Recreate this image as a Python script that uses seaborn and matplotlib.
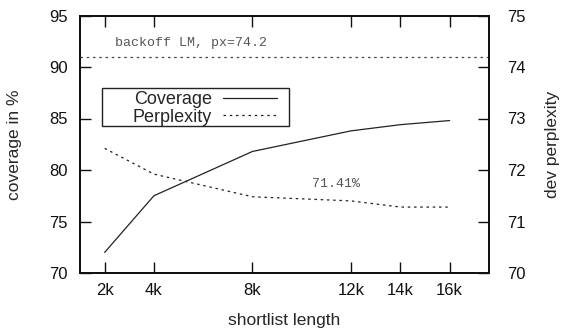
import matplotlib
matplotlib.use("Agg")
import matplotlib.pyplot as plt
from matplotlib.patches import Rectangle
import seaborn as sns
import pandas as pd

shortlist_k = [2, 4, 8, 12, 14, 16]
tick_labels = ["2k", "4k", "8k", "12k", "14k", "16k"]
coverage = [72.0, 77.5, 81.8, 83.8, 84.4, 84.8]
perplexity = [72.42, 71.92, 71.48, 71.40, 71.28, 71.28]
backoff_px = 74.2

sns.set_style("ticks")
plt.rcParams['font.family'] = ['Liberation Sans', 'DejaVu Sans']

df = pd.DataFrame({"k": shortlist_k, "coverage": coverage, "perplexity": perplexity})

fig = plt.figure(figsize=(5.63, 3.29), dpi=100)
ax = fig.add_axes([80/563, 1-273/329, (489-80)/563, (273-15.5)/329])
ax2 = ax.twinx()

sns.lineplot(data=df, x="k", y="coverage", ax=ax, color="#222222", lw=0.9, label="Coverage", legend=False)
sns.lineplot(data=df, x="k", y="perplexity", ax=ax2, color="#222222", lw=0.9,
             linestyle=(0, (2.0, 3.0)), label="Perplexity", legend=False)
ax2.axhline(backoff_px, color="#444444", lw=0.9, linestyle=(0, (2, 3)))

ax.set_xlim(1.0, 17.6)
ax.set_ylim(70, 95)
ax2.set_ylim(70, 75)
ax.set_xticks(shortlist_k)
ax.set_xticklabels(tick_labels)
ax.set_yticks([70, 75, 80, 85, 90, 95])
ax2.set_yticks([70, 71, 72, 73, 74, 75])

for a in (ax, ax2):
    for s in a.spines.values():
        s.set_visible(True)
        s.set_linewidth(1.3)
        s.set_color("#111111")
ax.tick_params(axis="both", direction="in", length=8, width=1.0, labelsize=12,
               top=True, colors="#111111")
ax.tick_params(axis="x", pad=7)
ax.tick_params(axis="y", right=False, pad=9)
ax2.tick_params(axis="y", direction="in", length=8, width=1.0, labelsize=12, pad=13,
                colors="#111111")

ax.set_xlabel("shortlist length", fontsize=12.5)
ax.set_ylabel("coverage in %", fontsize=12.5)
ax2.set_ylabel("dev perplexity", fontsize=12.5)
ax.xaxis.label.set_va("center")
ax.yaxis.label.set_va("center")
ax2.yaxis.label.set_va("center")
ax.xaxis.set_label_coords(0.5, (273-320)/257.5)
ax.yaxis.set_label_coords((15-80)/409, 0.5)
ax2.yaxis.set_label_coords((553-80)/409, 0.5)

ax.text(5.5, 92.3, f"backoff LM, px={backoff_px}", family="Liberation Mono", fontsize=9.5,
        color="#555555", ha="center", va="center")
ax.text(11.4, 78.6, "71.41%", family="Liberation Mono", fontsize=9.5,
        color="#555555", ha="center", va="center")

# legend box
bx0, bx1 = (102-80)/409, (289-80)/409
by0, by1 = (273-126)/257.5, (273-88)/257.5
ax2.add_patch(Rectangle((bx0, by0), bx1-bx0, by1-by0, transform=ax2.transAxes,
                        facecolor="white", edgecolor="#222222", lw=1.0, zorder=4))

h1, l1 = ax.get_legend_handles_labels()
h2, l2 = ax2.get_legend_handles_labels()
leg = ax2.legend(h1 + h2, l1 + l2, loc="upper right", bbox_to_anchor=(bx1 - 11/409, by1 - 2/257.5),
                 markerfirst=False, frameon=False,
                 fontsize=13, handlelength=3.0, labelspacing=0.05, borderpad=0.05,
                 handletextpad=0.6, borderaxespad=0)
for t in leg.get_texts():
    t.set_ha("right")
leg.set_zorder(5)

fig.savefig("out.png", dpi=100)
